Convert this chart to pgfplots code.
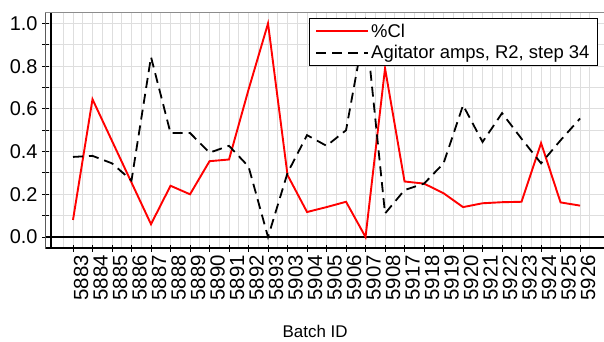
\documentclass[border=0pt]{standalone}
\usepackage{pgfplots}
\pgfplotsset{compat=1.18}
\usepackage{fontspec}
\setmainfont{Liberation Sans}
\begin{document}
\begin{tikzpicture}[x=1bp,y=1bp]
\path[use as bounding box] (0,0) rectangle (604,341);
\begin{axis}[
  at={(45.5bp,93bp)}, anchor=south west,
  scale only axis, width=560.5bp, height=235bp,
  xmin=-1.41, xmax=27.33, ymin=-0.0515, ymax=1.049,
  xtick={0,...,26},
  xticklabels={5883,5884,5885,5886,5887,5888,5889,5890,5891,5892,5893,5903,5904,5905,5906,5907,5908,5917,5918,5919,5920,5921,5922,5923,5924,5925,5926},
  extra x ticks={-0.5,0.5,...,26.5},
  extra x tick labels={},
  extra x tick style={grid=major, major tick length=0pt},
  ytick={0,0.2,...,1.0},
  minor y tick num=1,
  grid=both,
  grid style={draw=black!13, line width=0.9bp},
  minor grid style={draw=black!13, line width=0.9bp},
  tick align=center,
  major tick length=7bp, minor tick length=7bp,
  every tick/.style={black, line width=0.9bp},
  xtick pos=bottom, ytick pos=left,
  axis line style={draw=black!45, line width=1bp},
  /pgf/number format/assume math mode=true,
  yticklabel style={/pgf/number format/fixed, /pgf/number format/fixed zerofill, /pgf/number format/precision=1, xshift=-1bp, font=\fontsize{20}{23}\selectfont},
  xticklabel style={rotate=90, anchor=east, yshift=-8bp, font=\fontsize{20.5}{23}\selectfont},
  xlabel={Batch ID},
  xlabel style={font=\fontsize{17}{20}\selectfont, at={(axis description cs:0.481,-0.355)}, anchor=center},
  legend cell align=left,
  legend style={at={(axis description cs:0.9857,0.979)}, anchor=north east,
    draw=black, line width=1.1bp, fill=white,
    font=\fontsize{18.5}{21}\selectfont,
    inner xsep=6bp, inner ysep=3.5bp,
    row sep=2.5bp},
  legend image code/.code={\draw[#1] (0bp,0bp) -- (52bp,0bp);},
]
\draw[black, line width=1.4bp] (axis description cs:0,1) -- (axis description cs:0,0) -- (axis description cs:1,0);
\draw[black, line width=1.2bp] (axis cs:-1.41,0) -- (axis cs:27.33,0);
\draw[black, line width=1.2bp] (axis cs:-1.128,-0.0515) -- (axis cs:-1.128,1.049);
\addplot[red, line width=1.9bp] coordinates {
(0,0.08) (1,0.645) (2,0.45) (3,0.255) (4,0.06) (5,0.24) (6,0.20) (7,0.355) (8,0.363) (9,0.69) (10,1.0) (11,0.29) (12,0.117) (13,0.14) (14,0.165) (15,0.0) (16,0.79) (17,0.26) (18,0.25) (19,0.205) (20,0.14) (21,0.158) (22,0.163) (23,0.165) (24,0.44) (25,0.162) (26,0.147)};
\addlegendentry{\%Cl}
\addplot[black, line width=1.8bp, dash pattern=on 10bp off 6bp] coordinates {
(0,0.375) (1,0.38) (2,0.345) (3,0.265) (4,0.843) (5,0.487) (6,0.487) (7,0.395) (8,0.427) (9,0.33) (10,0.0) (11,0.3) (12,0.477) (13,0.427) (14,0.5) (15,1.0) (16,0.11) (17,0.22) (18,0.25) (19,0.345) (20,0.617) (21,0.445) (22,0.58) (23,0.46) (24,0.345) (25,0.453) (26,0.555)};
\addlegendentry{Agitator amps, R2, step 34}
\end{axis}
\end{tikzpicture}
\end{document}
